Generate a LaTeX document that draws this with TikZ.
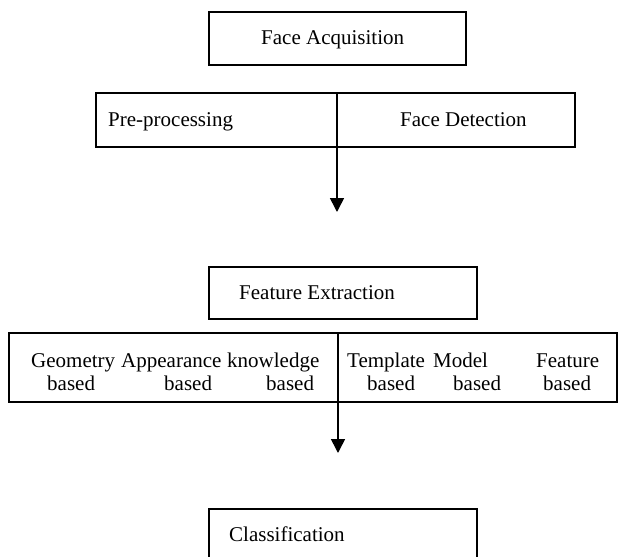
\documentclass[tikz,border=0pt]{standalone}
\usepackage{fontspec}
\setmainfont{Liberation Serif}
\usetikzlibrary{arrows.meta}
\begin{document}
\begin{tikzpicture}[x=1pt,y=-1pt,
  box/.style={draw,line width=1.6pt,inner sep=0pt,rectangle},
  lbl/.style={anchor=base west,inner sep=0pt,font=\fontsize{21}{25}\selectfont},
  divider/.style={line width=1.6pt},
  arr/.style={line width=1.6pt,-{Triangle[length=14pt,width=14pt]}}]
\useasboundingbox (0,0) rectangle (622,557);
\clip (0,0) rectangle (622,557);
% boxes
\node[box,minimum width=257pt,minimum height=53pt] (acq) at (337.5,38.5) {};
\node[box,minimum width=479pt,minimum height=54pt] (pre) at (335.5,120) {};
\node[box,minimum width=268pt,minimum height=52pt] (fe) at (343,293) {};
\node[box,minimum width=608pt,minimum height=69pt] (meth) at (313,367.5) {};
\node[box,minimum width=268pt,minimum height=80pt] (cls) at (343,549) {};
% texts
\node[lbl] (tacq) at (261,44) {Face Acquisition};
\node[lbl] (tpre) at (108,126) {Pre-processing};
\node[lbl] (tdet) at (400,126) {Face Detection};
\node[lbl] (tfe) at (239,299) {Feature Extraction};
\node[lbl] (g1) at (31,367) {Geometry};
\node[lbl] (g2) at (121,367) {Appearance};
\node[lbl] (g3) at (227,367) {knowledge};
\node[lbl] (b1) at (47,390) {based};
\node[lbl] (b2) at (164,390) {based};
\node[lbl] (b3) at (266,390) {based};
\node[lbl] (h1) at (347,367) {Template};
\node[lbl] (h2) at (433,367) {Model};
\node[lbl] (h3) at (536,367) {Feature};
\node[lbl] (b4) at (367,390) {based};
\node[lbl] (b5) at (453,390) {based};
\node[lbl] (b6) at (543,390) {based};
\node[lbl] (tcls) at (229,541) {Classification};
% dividers and arrows
\coordinate (t1) at (337,212);
\coordinate (t2) at (338,453);
\draw[divider] (t1 |- pre.north) -- (t1 |- pre.south);
\draw[arr] (t1 |- pre.south) -- (t1);
\draw[divider] (t2 |- meth.north) -- (t2 |- meth.south);
\draw[arr] (t2 |- meth.south) -- (t2);
\end{tikzpicture}
\end{document}
